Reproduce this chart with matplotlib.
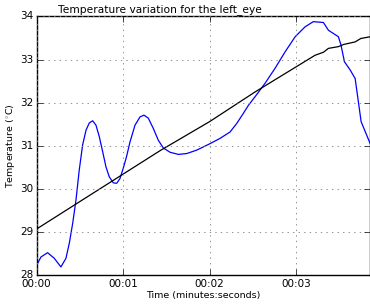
import numpy as np
import matplotlib
matplotlib.use("Agg")
import matplotlib.pyplot as plt

# temperature readings (time in minutes)
t_temp = [0.000, 0.050, 0.127, 0.204, 0.281, 0.339, 0.378, 0.417, 0.455, 0.493,
          0.532, 0.571, 0.609, 0.648, 0.686, 0.725, 0.764, 0.802, 0.840, 0.887,
          0.926, 0.964, 1.002, 1.040, 1.080, 1.138, 1.196, 1.242, 1.292, 1.350,
          1.407, 1.465, 1.543, 1.640, 1.736, 1.852, 1.986, 2.120, 2.237, 2.315,
          2.390, 2.450, 2.527, 2.642, 2.758, 2.874, 2.990, 3.105, 3.200, 3.317,
          3.375, 3.490, 3.520, 3.560, 3.626, 3.684, 3.753, 3.860]
temp = [28.23, 28.42, 28.52, 28.39, 28.19, 28.39, 28.74, 29.20, 29.74, 30.44,
        31.02, 31.36, 31.53, 31.58, 31.48, 31.21, 30.86, 30.51, 30.28, 30.14,
        30.13, 30.24, 30.48, 30.75, 31.09, 31.48, 31.67, 31.71, 31.64, 31.40,
        31.13, 30.95, 30.85, 30.80, 30.82, 30.90, 31.03, 31.17, 31.32, 31.52,
        31.75, 31.94, 32.14, 32.45, 32.80, 33.18, 33.53, 33.76, 33.88, 33.86,
        33.68, 33.53, 33.34, 32.95, 32.76, 32.56, 31.56, 31.04]

# trend line
t_trend = [0.00, 1.43, 2.00, 2.527, 3.22, 3.317, 3.375, 3.49, 3.55, 3.684, 3.75, 3.86]
trend = [29.07, 30.89, 31.56, 32.25, 33.10, 33.17, 33.26, 33.30, 33.35, 33.41, 33.49, 33.53]

xticks = [0, 1, 2, 3]
xticklabels = ["00:00", "00:01", "00:02", "00:03"]
yticks = [28, 29, 30, 31, 32, 33, 34]

plt.style.use("classic")
plt.rcParams["font.family"] = "DejaVu Sans"

fig = plt.figure(figsize=(3.7, 3.05), dpi=100, facecolor="white")
ax = fig.add_axes([0.099, 0.098, 0.902, 0.848])

ax.plot(t_temp, temp, color="b", lw=0.9)
ax.plot(t_trend, trend, color="k", lw=0.9)

ax.set_xlim(0, 3.86)
ax.set_ylim(28, 34)
ax.set_xticks(xticks)
ax.set_xticklabels(xticklabels)
ax.set_yticks(yticks)
ax.tick_params(labelsize=7.5, pad=2.5)
ax.grid(True, color="0.5", linestyle=":", linewidth=0.6)

ax.set_xlabel("Time (minutes:seconds)", fontsize=6.8, labelpad=1.5)
ax.set_ylabel("Temperature ($^{\\circ}$C)", fontsize=6.8)
ax.yaxis.set_label_coords(-0.059, 0.5)
fig.text(0.433, 0.968, "Temperature variation for the left_eye", fontsize=7.7,
         ha="center", va="center")

fig.savefig("out.png", dpi=100, facecolor="white")
